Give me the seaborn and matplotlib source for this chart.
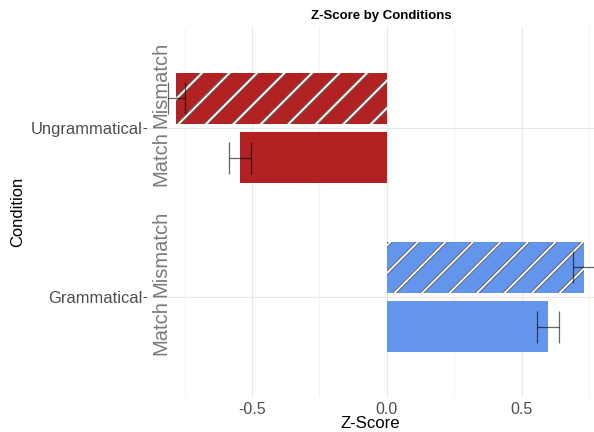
import pandas as pd
import seaborn as sns
import matplotlib.pyplot as plt
import matplotlib.transforms as mtransforms
from matplotlib.patches import Rectangle
from matplotlib.ticker import MultipleLocator

# data
conditions = ['Ungrammatical', 'Grammatical']
match_types = ['Mismatch', 'Match']
z_mismatch = [-0.78, 0.73]
z_match = [-0.545, 0.597]
se_mismatch = [0.03, 0.04]
se_match = [0.04, 0.04]
cond_colors = {'Ungrammatical': '#B22222', 'Grammatical': '#6495ED'}
xtick_vals = [-0.5, 0.0, 0.5]
xtick_labels = ['-0.5', '0.0', '0.5']

df = pd.DataFrame({
    'Condition': conditions * 2,
    'Match': ['Mismatch'] * 2 + ['Match'] * 2,
    'Z': z_mismatch + z_match,
    'SE': se_mismatch + se_match,
})

sns.set_theme(style='white')
plt.rcParams['font.family'] = ['Liberation Sans', 'DejaVu Sans']
plt.rcParams['axes.unicode_minus'] = False

# dpi 165 so the '//' hatch spacing matches the reference stripes
DPI = 165
fig, ax = plt.subplots(figsize=(594 / DPI, 432 / DPI), dpi=DPI)
fig.subplots_adjust(left=147 / 594, right=1.0, bottom=1 - 397 / 432, top=1 - 27 / 432)

sns.barplot(data=df, y='Condition', x='Z', hue='Match', order=conditions,
            hue_order=match_types, orient='h', width=0.7, gap=0.15,
            errorbar=None, legend=False, ax=ax)

# recolour by condition, stripe the mismatch bars
for level, cont in zip(match_types, ax.containers):
    for cond, p in zip(conditions, cont.patches):
        p.set_facecolor(cond_colors[cond])
        p.set_edgecolor(cond_colors[cond])
        p.set_linewidth(0)
        if level == 'Mismatch':
            p.set_hatch('//')
            p.set_edgecolor('#666666')
            if hasattr(p, 'set_hatch_linewidth'):
                p.set_hatch_linewidth(1.6)
            top = Rectangle(p.get_xy(), p.get_width(), p.get_height(), fill=False,
                            hatch='//', edgecolor='white', linewidth=0, zorder=p.get_zorder() + 0.1)
            if hasattr(top, 'set_hatch_linewidth'):
                top.set_hatch_linewidth(0.75)
            ax.add_patch(top)

# error bars at the bar ends
for level, cont in zip(match_types, ax.containers):
    sub = df[df['Match'] == level].set_index('Condition').loc[conditions]
    ys = [p.get_y() + p.get_height() / 2 for p in cont.patches]
    ax.errorbar(sub['Z'], ys, xerr=sub['SE'], fmt='none', ecolor='black', alpha=0.6,
                elinewidth=0.55, capsize=7.0, capthick=0.55, zorder=5, clip_on=False)

# sub labels inside the panel
trans = mtransforms.blended_transform_factory(ax.transAxes, ax.transData)
for i, cond in enumerate(conditions):
    ax.text(0.03, i - 0.255, 'Mismatch', rotation=90, ha='center', va='center',
            fontsize=8.8, color='#7a7a7a', transform=trans)
    ax.text(0.03, i + 0.18, 'Match', rotation=90, ha='center', va='center',
            fontsize=8.8, color='#7a7a7a', transform=trans)

ax.set_xlim(-0.889, 0.767)
ax.set_ylim(1.592, -0.598)
ax.set_xticks(xtick_vals)
ax.set_xticklabels(xtick_labels)
ax.xaxis.set_minor_locator(MultipleLocator(0.25))
ax.set_yticks(range(len(conditions)))
ax.set_yticklabels([])
ax.tick_params(axis='x', length=0, pad=2.4, labelsize=7, labelcolor='#4d4d4d')
ax.tick_params(axis='x', which='minor', length=0)
ax.tick_params(axis='y', length=0)
ax.grid(True, which='major', color='#e8e8e8', linewidth=0.5)
ax.grid(True, which='minor', axis='x', color='#f2f2f2', linewidth=0.4)
ax.set_axisbelow(True)
for s in ax.spines.values():
    s.set_visible(False)

# outer condition labels
sec = ax.secondary_yaxis('left')
sec.set_yticks(range(len(conditions)))
sec.set_yticklabels(conditions)
sec.tick_params(axis='y', length=1.8, width=0.45, color='#4d4d4d', pad=0.3,
                labelsize=7.2, labelcolor='#4d4d4d')
sec.spines['left'].set_visible(False)

ax.set_xlabel('')
ax.set_ylabel('')
fig.text(370 / 594, 1 - 424 / 432, 'Z-Score', ha='center', va='center',
         fontsize=7.3, color='black')
fig.text(18 / 594, 1 - 212 / 432, 'Condition', rotation=90, ha='center', va='center',
         fontsize=7.2, color='black')
fig.text(381 / 594, 1 - 16 / 432, 'Z-Score by Conditions', ha='center', va='center',
         fontsize=5.8, fontweight='bold', color='black')

fig.savefig('out.png', dpi=DPI)
